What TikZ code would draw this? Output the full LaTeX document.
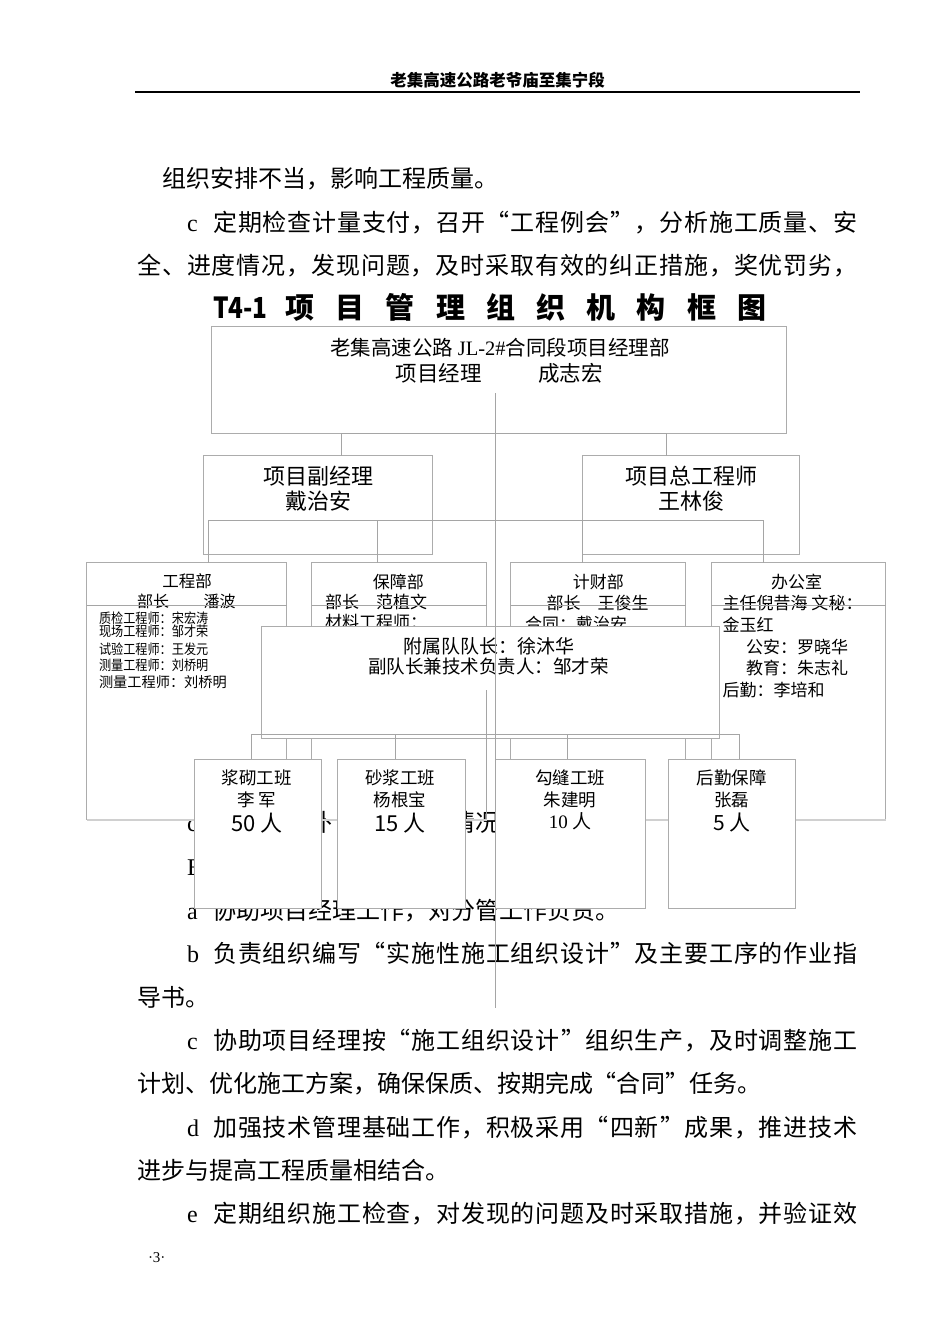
\documentclass[tikz,border=0pt]{standalone}
\usepackage{fontspec}
\usepackage{graphicx}
\setmainfont{Liberation Serif}
\newfontfamily\cjk{Noto Sans CJK SC}
\newfontfamily\lat{Liberation Serif}
\definecolor{boxc}{RGB}{172,172,172}
\definecolor{linec}{RGB}{165,165,165}
\definecolor{shadc}{RGB}{208,208,208}
\newcommand\fsz[1]{\fontsize{#1}{#1}\selectfont}
\newdimen\cpitch
\def\spreadc#1{\ifx#1\relax\else\makebox[\cpitch][c]{#1}\expandafter\spreadc\fi}
\def\oq{\hfill“\hspace*{1pt}}
\def\cq{\hspace*{1pt}”\hfill}
\begin{document}
\begin{tikzpicture}[x=1pt,y=-1pt,
  box/.style={draw=boxc, line width=0.8pt, inner sep=0pt, outer sep=0pt, anchor=north west},
  wbox/.style={box, fill=white},
  conn/.style={draw=linec, line width=0.8pt},
  tc/.style={inner sep=0pt, outer sep=0pt, anchor=base},
  tw/.style={inner sep=0pt, outer sep=0pt, anchor=base west},
  body/.style={tw, font=\cjk\fsz{24}},
  blat/.style={tw, font=\lat\fsz{24}},
  f17/.style={font=\cjk\fsz{17}},
]
\path[use as bounding box, fill=white] (0,0) rectangle (950,1344);

% ---------- page header ----------
\node[tc, font=\cjk\bfseries\fsz{16.5}] (hdr) at (497.5,86.3) {老集高速公路老爷庙至集宁段};
\draw[line width=2pt] (135,91.5) -- (860,91.5);

% ---------- body text ----------
\node[body] (b1) at (162,187.1) {\cpitch=24pt\spreadc 组织安排不当，影响工程质量。\relax};
\node[blat] (b2c) at (187,231.1) {c};
\node[body] (b2) at (213,231.1) {\cpitch=24.8pt\spreadc 定期检查计量支付，召开\oq 工程例会\cq ，分析施工质量、安\relax};
\node[body] (b3) at (137,274.1) {\cpitch=24.86pt\spreadc 全、进度情况，发现问题，及时采取有效的纠正措施，奖优罚劣，\relax};

\node[tw, font=\cjk\bfseries\fsz{29}] (tT) at (213,318) {\scalebox{0.84}[1]{T4-1}};
\node[tw, font=\cjk\bfseries\fsz{29}] (tt) at (274.9,318) {\cpitch=50.2pt\spreadc 项目管理组织机构框图\relax};

% line mostly hidden behind the team boxes: only its visible fragments
\node[blat] (b4c) at (187,831.1) {c};
\begin{scope}
  \clip (321.9,805) rectangle (337.1,840);
  \node[body] (b4x) at (308.6,831.1) {外};
\end{scope}
\begin{scope}
  \clip (465.2,805) rectangle (494.8,840);
  \node[body] (b4y) at (452,831.1) {\cpitch=23.9pt\spreadc 情况\relax};
\end{scope}
\node[blat] (b5c) at (187,875.1) {E};
\node[blat] (b6c) at (187,919.1) {a};
\node[body] (b6) at (213,919.1) {\cpitch=23.9pt\spreadc 协助项目经理工作，对分管工作负责。\relax};
\node[blat] (b7c) at (187,962.1) {b};
\node[body] (b7) at (213,962.1) {\cpitch=24.8pt\spreadc 负责组织编写\oq 实施性施工组织设计\cq 及主要工序的作业指\relax};
\node[body] (b8) at (137,1006.1) {\cpitch=24pt\spreadc 导书。\relax};
\node[blat] (b9c) at (187,1049.1) {c};
\node[body] (b9) at (213,1049.1) {\cpitch=24.8pt\spreadc 协助项目经理按\oq 施工组织设计\cq 组织生产，及时调整施工\relax};
\node[body] (b10) at (137,1092.1) {\cpitch=24pt\spreadc 计划、优化施工方案，确保保质、按期完成\oq 合同\cq 任务。\relax};
\node[blat] (b11c) at (187,1136.1) {d};
\node[body] (b11) at (213,1136.1) {\cpitch=24.8pt\spreadc 加强技术管理基础工作，积极采用\oq 四新\cq 成果，推进技术\relax};
\node[body] (b12) at (137,1179.1) {\cpitch=24pt\spreadc 进步与提高工程质量相结合。\relax};
\node[blat] (b13c) at (187,1222.1) {e};
\node[body] (b13) at (213,1222.1) {\cpitch=24.8pt\spreadc 定期组织施工检查，对发现的问题及时采取措施，并验证效\relax};
\node[tw, font=\lat\fsz{15}] (pg) at (148,1262.5) {·3·};

% ---------- department texts (partly covered later) ----------
\node[tc, font=\cjk\fsz{16.5}] (d1a) at (187,587.8) {工程部};
\node[tc, font=\cjk\fsz{16}] (d1b) at (153,607) {部长};
\node[tc, font=\cjk\fsz{16}] (d1c) at (219.5,607) {潘波};
\node[tw, font=\cjk\fsz{13.8}] (d1s1) at (99,623.5) {\scalebox{0.88}[1]{质检工程师：宋宏涛}};
\node[tw, font=\cjk\fsz{13.8}] (d1s2) at (99,636.9) {\scalebox{0.88}[1]{现场工程师：邹才荣}};
\node[tw, font=\cjk\fsz{13.8}] (d1s3) at (99,654.2) {\scalebox{0.88}[1]{试验工程师：王发元}};
\node[tw, font=\cjk\fsz{13.8}] (d1s4) at (99,670.2) {\scalebox{0.88}[1]{测量工程师：刘桥明}};
\node[tw, font=\cjk\fsz{14.2}] (d1s5) at (99,687.1) {测量工程师：刘桥明};

\node[tc, f17] (d2a) at (398.3,588.5) {保障部};
\node[tw, f17] (d2b) at (325,608.5) {部长　范植文};
\node[tw, f17] (d2c) at (325,628.5) {材料工程师：};

\node[tc, f17] (d3a) at (598.3,588.5) {计财部};
\node[tw, f17] (d3b) at (546.7,609.5) {部长　王俊生};
\node[tw, f17] (d3c) at (525,630.5) {合同：戴治安};

\node[tc, f17] (d4a) at (796.7,588.5) {办公室};
\node[tw, f17] (d4b) at (722.7,609.5) {主任倪昔海 文秘：};
\node[tw, f17] (d4c) at (722.7,631.5) {金玉红};
\node[tw, f17] (d4d) at (746,653.5) {公安：罗晓华};
\node[tw, f17] (d4e) at (746,674.5) {教育：朱志礼};
\node[tw, f17] (d4f) at (722.7,696.5) {后勤：李培和};

% ---------- upper boxes ----------
\node[box, minimum width=574.3pt, minimum height=106.8pt] (pm) at (211.7,326.5) {};
\node[tc, font=\cjk\fsz{20.5}] (pm1) at (500,355.8) {老集高速公路 {\lat JL-2\#}合同段项目经理部};
\node[tc, font=\cjk\fsz{21.5}] (pm2) at (438.5,381.2) {项目经理};
\node[tc, font=\cjk\fsz{21.5}] (pm3) at (570.5,381.2) {成志宏};

\node[box, minimum width=229pt, minimum height=98.6pt] (sub1) at (203.3,455.7) {};
\node[tc, font=\cjk\fsz{22}] (s1a) at (318,484.4) {项目副经理};
\node[tc, font=\cjk\fsz{22}] (s1b) at (318,509.9) {戴治安};
\node[box, minimum width=216.3pt, minimum height=98.6pt] (sub2) at (582.7,455.7) {};
\node[tc, font=\cjk\fsz{22}] (s2a) at (691,484.4) {项目总工程师};
\node[tc, font=\cjk\fsz{22}] (s2b) at (691,509.9) {王林俊};

% ---------- department boxes ----------
\node[box, minimum width=200pt, minimum height=256.3pt] (d1) at (86.7,562.7) {};
\node[box, minimum width=175pt, minimum height=256.3pt] (d2) at (311.7,562.7) {};
\node[box, minimum width=175pt, minimum height=256.3pt] (d3) at (510.7,562.7) {};
\node[box, minimum width=174.7pt, minimum height=256.3pt] (d4) at (711,562.7) {};
\draw[conn] (86.7,605) -- (286.7,605);
\draw[conn] (311.7,605) -- (486.7,605);
\draw[conn] (510.7,605) -- (685.7,605);
\draw[conn] (711,605) -- (885.7,605);
\foreach \n in {d1,d2,d3,d4}{
  \draw[shadc, line width=2pt] ([yshift=-0.6pt]\n.south west) -- ([yshift=-0.6pt]\n.south east);
}

% ---------- attached team box ----------
\node[wbox, minimum width=457.6pt, minimum height=111.6pt] (fs) at (261.7,626.7) {};
\node[tc, font=\cjk\fsz{19}] (fs1) at (489,653.9) {附属队队长：徐沐华};
\node[tc, font=\cjk\fsz{18.5}] (fs2) at (488.3,673.7) {副队长兼技术负责人：邹才荣};

% ---------- connectors ----------
\coordinate (c1l) at (341.7,433.3);
\coordinate (c1r) at (666.7,433.3);
\draw[conn] (sub1.north -| c1l) -- (c1l) -- (c1r) -- (sub2.north -| c1r);

\coordinate (c2a) at (208.3,520);
\coordinate (c2b) at (377.7,520);
\coordinate (c2c) at (582.7,520);
\coordinate (c2d) at (763,520);
\draw[conn] (c2a) -- (c2d);
\draw[conn] (c2a) -- (c2a |- d1.north);
\draw[conn] (c2b) -- (c2b |- d2.north);
\draw[conn] (c2c) -- (c2c |- d3.north);
\draw[conn] (c2d) -- (c2d |- d4.north);

% ---------- team boxes ----------
\node[wbox, minimum width=127.7pt, minimum height=149pt] (t1) at (194,759.3) {};
\node[wbox, minimum width=127.7pt, minimum height=149pt] (t2) at (337.3,759.3) {};
\node[wbox, minimum width=150.7pt, minimum height=149pt] (t3) at (495,759.3) {};
\node[wbox, minimum width=127.4pt, minimum height=149pt] (t4) at (668.3,759.3) {};

\coordinate (c3a) at (251.7,734);
\coordinate (c3b) at (395.7,734);
\coordinate (c3c) at (567.3,734);
\coordinate (c3d) at (739.3,734);
\draw[conn] (c3a) -- (c3d);
\draw[conn] (c3a) -- (c3a |- t1.north);
\draw[conn] (c3b) -- (c3b |- t2.north);
\draw[conn] (c3c) -- (c3c |- t3.north);
\draw[conn] (c3d) -- (c3d |- t4.north);

\node[tc, font=\cjk\fsz{17.5}] (t1a) at (256.7,784) {浆砌工班};
\node[tc, font=\cjk\fsz{17.5}] (t1b) at (256.7,806.7) {李 军};
\node[tc, font=\cjk\fsz{22}] (t1c) at (256.7,831.7) {50 人};
\node[tc, font=\cjk\fsz{17.5}] (t2a) at (400,784) {砂浆工班};
\node[tc, font=\cjk\fsz{17.5}] (t2b) at (400,806.7) {杨根宝};
\node[tc, font=\cjk\fsz{22}] (t2c) at (400,831.7) {15 人};
\node[tc, font=\cjk\fsz{17.5}] (t3a) at (570,784) {勾缝工班};
\node[tc, font=\cjk\fsz{17.5}] (t3b) at (570,806.7) {朱建明};
\node[tc, font=\cjk\fsz{19}] (t3c) at (570,828.2) {{\lat 10} 人};
\node[tc, font=\cjk\fsz{17.5}] (t4a) at (731.7,784) {后勤保障};
\node[tc, font=\cjk\fsz{17.5}] (t4b) at (731.7,806.7) {张磊};
\node[tc, font=\cjk\fsz{21}] (t4c) at (731.7,830) {5 人};

% ---------- long vertical lines ----------
\coordinate (fsc) at (486.7,690);
\draw[conn] (fsc) -- (fsc |- d2.south);
\coordinate (pmc) at (495.7,393);
\coordinate (pme) at (495.7,1008);
\draw[conn] (pmc) -- (pme);
\end{tikzpicture}
\end{document}
